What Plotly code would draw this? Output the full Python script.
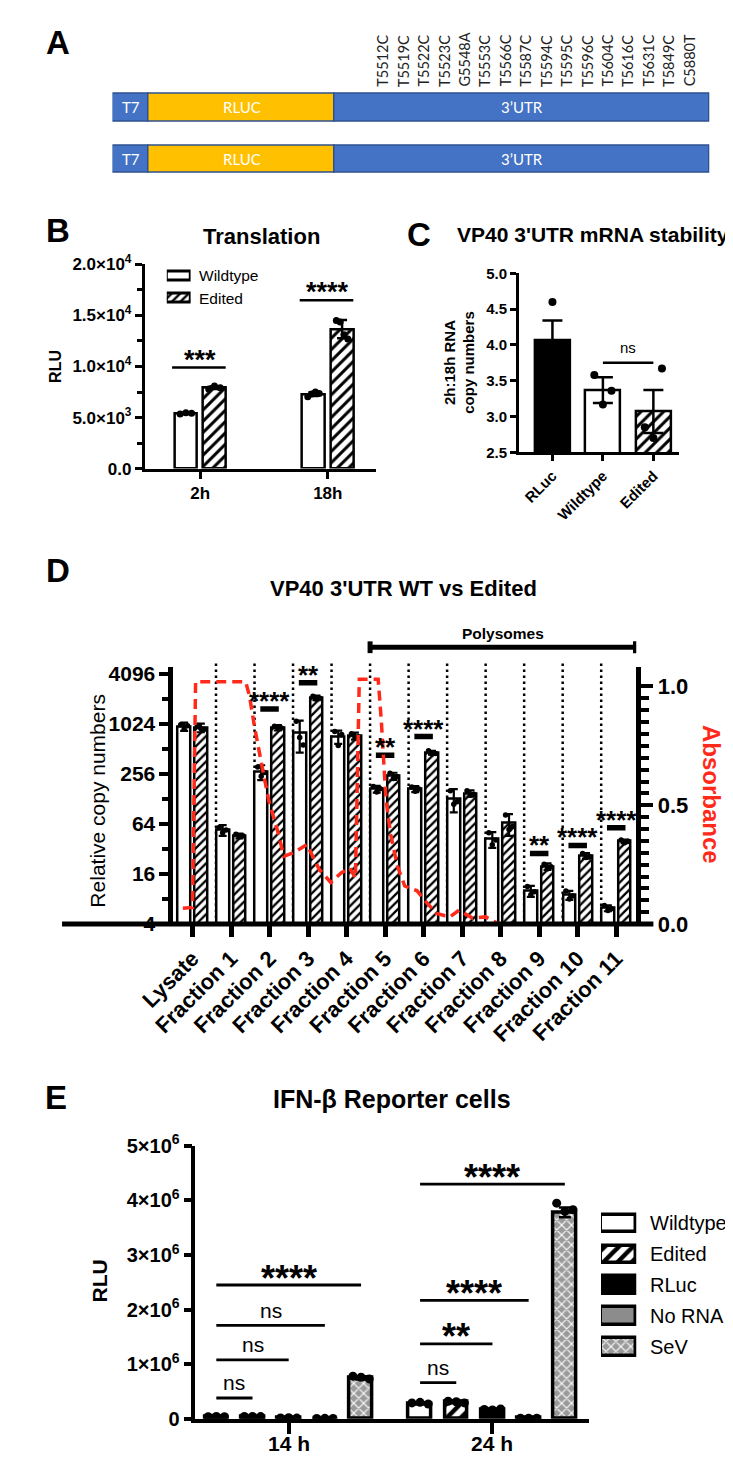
import numpy as np
import plotly.graph_objects as go

W, H = 733, 1462
FONT = "Liberation Sans, Arial, Helvetica, sans-serif"
FONT_A = "Lato, Carlito, Liberation Sans, sans-serif"
FONT_LETTER = "Liberation Sans Narrow, Liberation Sans, Arial, sans-serif"

# ======================= DATA =======================
# Panel A: constructs
construct_rows = ["Edited", "Wildtype"]
segment_names = ["T7", "RLUC", "3’UTR"]
segment_lengths = [38, 195, 394]
segment_colors = ["#4472C4", "#FFC000", "#4472C4"]
mutation_labels = ["T5512C", "T5519C", "T5522C", "T5523C", "G5548A", "T5553C",
                   "T5566C", "T5587C", "T5594C", "T5595C", "T5596C", "T5604C",
                   "T5616C", "T5631C", "T5849C", "C5880T"]

# Panel B: Translation (RLU)
b_groups = ["2h", "18h"]
b_wildtype_reps = [[5350, 5480, 5420], [7050, 7300, 7500, 7350]]
b_edited_reps = [[7800, 8080, 7920], [14500, 14350, 13100, 12700]]
b_sig_labels = ["***", "****"]
b_sig_heights = [9900, 16500]
b_yticks = [0, 5000, 10000, 15000, 20000]
b_yticklabels = ["0.0", "5.0×10<sup>3</sup>", "1.0×10<sup>4</sup>",
                 "1.5×10<sup>4</sup>", "2.0×10<sup>4</sup>"]

# Panel C: mRNA stability
c_groups = ["RLuc", "Wildtype", "Edited"]
c_means = [4.07, 3.37, 3.07]
c_sem = [0.27, 0.18, 0.30]
c_reps = [[4.60, 3.85, 3.75], [3.58, 3.17, 3.36], [3.67, 2.85, 2.70]]
c_sig = ("ns", 1, 2, 3.75)

# Panel D: polysome fractions
d_groups = ["Lysate", "Fraction 1", "Fraction 2", "Fraction 3", "Fraction 4",
            "Fraction 5", "Fraction 6", "Fraction 7", "Fraction 8", "Fraction 9",
            "Fraction 10", "Fraction 11"]
d_wt_mean = [950, 54, 270, 790, 717, 168, 168, 128, 42, 10.0, 8.9, 6.2]
d_wt_err = [110, 8, 55, 330, 130, 16, 14, 40, 9, 1.5, 1.1, 0.5]
d_ed_mean = [920, 46, 920, 2100, 730, 240, 460, 149, 65, 19.7, 26.5, 39.5]
d_ed_err = [110, 3, 70, 130, 70, 24, 25, 13, 19, 1.8, 2.0, 2.0]
d_wt_reps = [[1000, 880, 970], [58, 50, 54], [310, 240, 265], [1100, 700, 570],
             [830, 560, 760], [180, 155, 170], [178, 158, 168], [160, 110, 118],
             [50, 36, 41], [11.3, 9.0, 9.8], [10.0, 8.0, 8.7], [6.7, 5.8, 6.1]]
d_ed_reps = [[980, 900, 880], [48, 45, 46], [960, 890, 910], [2200, 2020, 2080],
             [780, 700, 710], [260, 225, 238], [485, 445, 450], [160, 142, 146],
             [82, 55, 60], [21, 18.5, 19.6], [28.3, 25.3, 26], [41, 38, 39.5]]
d_sig = [(2, 1540, "****"), (3, 3200, "**"), (5, 430, "**"), (6, 720, "****"),
         (9, 28.3, "**"), (10, 35.3, "****"), (11, 57.4, "****")]
d_yticks = [4, 16, 64, 256, 1024, 4096]
absorb_x = [-0.25, 0.0, 0.08, 1.38, 1.48, 1.61, 1.81, 1.98, 2.23, 2.37, 2.62, 2.97,
            3.12, 3.29, 3.59, 3.86, 4.08, 4.23, 4.33, 4.82, 4.90, 4.97, 5.02, 5.14,
            5.32, 5.51, 5.83, 6.08, 6.33, 6.68, 6.92, 7.27, 7.61, 7.96]
absorb_y = [0.066, 0.07, 1.02, 1.02, 0.96, 0.83, 0.66, 0.52, 0.38, 0.285, 0.30, 0.335,
            0.285, 0.23, 0.175, 0.215, 0.236, 0.194, 1.03, 1.03, 0.86, 0.66, 0.53, 0.38,
            0.244, 0.16, 0.14, 0.09, 0.045, 0.03, 0.058, 0.025, 0.03, 0.0]

# Panel E: IFN-beta reporter
e_groups = ["14 h", "24 h"]
e_conditions = ["Wildtype", "Edited", "RLuc", "No RNA", "SeV"]
e_means_14h = [35000, 38000, 12000, 5000, 750000]
e_means_24h = [280000, 305000, 165000, 8000, 3780000]
e_err_14h = [5000, 5000, 5000, 2000, 30000]
e_err_24h = [20000, 20000, 15000, 3000, 90000]
e_reps_14h = [[38000, 40000, 36000], [40000, 41000, 39000], [15000, 18000, 12000],
              [6000, 7000, 6000], [780000, 760000, 730000]]
e_reps_24h = [[290000, 300000, 270000], [320000, 310000, 290000],
              [170000, 160000, 180000], [10000, 9000, 10000],
              [3950000, 3800000, 3830000]]
e_sig = [(0, 0, 1, 380000, "ns"), (0, 0, 2, 1080000, "ns"), (0, 0, 3, 1710000, "ns"),
         (0, 0, 4, 2450000, "****"), (1, 0, 1, 660000, "ns"), (1, 0, 2, 1370000, "**"),
         (1, 0, 3, 2170000, "****"), (1, 0, 4, 4300000, "****")]
e_yticks = [0, 1e6, 2e6, 3e6, 4e6, 5e6]
e_yticklabels = ["0", "1×10<sup>6</sup>", "2×10<sup>6</sup>", "3×10<sup>6</sup>",
                 "4×10<sup>6</sup>", "5×10<sup>6</sup>"]

# ======================= HELPERS =======================
def dom_x(l, r):
    return [l / W, r / W]

def dom_y(t, b):
    return [1 - b / H, 1 - t / H]

def px(v):
    return v / W

def py(v):
    return 1 - v / H

annotations = []
shapes = []

def ann(text, x, y, size, bold=False, color="black", xanchor="center",
        yanchor="middle", angle=0, family=FONT, xref="paper", yref="paper", yshift=0):
    annotations.append(dict(text=text, x=x, y=y, xref=xref, yref=yref, showarrow=False,
                            font=dict(family=family, size=size, color=color,
                                      weight="bold" if bold else "normal"),
                            xanchor=xanchor, yanchor=yanchor, textangle=angle,
                            yshift=yshift, borderpad=0))

def axstyle(**kw):
    d = dict(showgrid=False, zeroline=False, showline=True, linecolor="black",
             ticks="outside", tickcolor="black", fixedrange=True)
    d.update(kw)
    return d

def hatch(size, solidity=0.38, shape="/", fg="black", bg="white"):
    return dict(shape=shape, size=size, solidity=solidity, fgcolor=fg, bgcolor=bg,
                fillmode="replace")

data = []

# ======================= PANEL A =======================
bases = np.concatenate([[0], np.cumsum(segment_lengths)[:-1]])
rows = np.arange(len(construct_rows))
for name, length, base, color in zip(segment_names, segment_lengths, bases, segment_colors):
    data.append(go.Bar(orientation="h", y=rows, x=[length] * len(rows),
                       base=[base] * len(rows), width=0.533,
                       marker=dict(color=color, line=dict(color="#2F528F", width=1.5)),
                       xaxis="x", yaxis="y", hoverinfo="skip"))
    for r in rows:
        ann(name, base + length / 2, r, 15, color="white", family=FONT_A,
            xref="x", yref="y")
label_x = np.linspace(284, 606, len(mutation_labels))
for lx, lab in zip(label_x, mutation_labels):
    ann(lab, lx, py(67), 14.5, color="#222222", family=FONT_A, xref="x",
        yanchor="bottom", angle=-90)

# ======================= PANEL B =======================
b_x = np.arange(len(b_groups))
off_b, w_b = 0.112, 0.179
b_wt_m = [np.mean(r) for r in b_wildtype_reps]
b_wt_sd = [np.std(r, ddof=1) for r in b_wildtype_reps]
b_ed_m = [np.mean(r) for r in b_edited_reps]
b_ed_sd = [np.std(r, ddof=1) for r in b_edited_reps]
err_b = lambda a: dict(type="data", array=a, color="black", thickness=2.5, width=5)
data.append(go.Bar(x=b_x - off_b, y=b_wt_m, width=w_b, error_y=err_b(b_wt_sd),
                   marker=dict(color="white", line=dict(color="black", width=2.5)),
                   xaxis="x2", yaxis="y2"))
data.append(go.Bar(x=b_x + off_b, y=b_ed_m, width=w_b, error_y=err_b(b_ed_sd),
                   marker=dict(color="white", line=dict(color="black", width=2.5),
                               pattern=hatch(8)),
                   xaxis="x2", yaxis="y2"))
for g in b_x:
    for reps, sgn in ((b_wildtype_reps[g], -1), (b_edited_reps[g], 1)):
        xs = g + sgn * off_b + np.linspace(-0.045, 0.045, len(reps))
        data.append(go.Scatter(x=xs, y=reps, mode="markers",
                               marker=dict(color="black", size=7),
                               xaxis="x2", yaxis="y2"))
for g, (lab, hgt) in enumerate(zip(b_sig_labels, b_sig_heights)):
    data.append(go.Scatter(x=[g - 0.22, g + 0.2], y=[hgt, hgt], mode="lines",
                           line=dict(color="black", width=2.5), xaxis="x2", yaxis="y2"))
    ann(lab, g, hgt, 27, bold=True, xref="x2", yref="y2", yshift=8)

# legend B
data.append(go.Bar(orientation="h", y=[0], x=[1], base=[0], width=0.4,
                   marker=dict(color="white", line=dict(color="black", width=3)),
                   xaxis="x3", yaxis="y3"))
data.append(go.Bar(orientation="h", y=[1], x=[1], base=[0], width=0.4,
                   marker=dict(color="white", line=dict(color="black", width=3),
                               pattern=hatch(6, 0.4)),
                   xaxis="x3", yaxis="y3"))
ann("Wildtype", px(163), py(258.5), 15.5, xanchor="left")
ann("Edited", px(163), py(281.5), 15.5, xanchor="left")

# ======================= PANEL C =======================
c_x = np.arange(len(c_groups))
w_c = 0.7
c_fill = [dict(color="black", line=dict(color="black", width=2.5)),
          dict(color="white", line=dict(color="black", width=2.5)),
          dict(color="white", line=dict(color="black", width=2.5), pattern=hatch(8))]
c_dot_offsets = [[0.0, -0.17, 0.17], [-0.17, 0.0, 0.17], [0.17, -0.17, 0.0]]
for i in c_x:
    data.append(go.Bar(x=[i], y=[c_means[i]], width=w_c, marker=c_fill[i],
                       error_y=dict(type="data", array=[c_sem[i]], color="black",
                                    thickness=2.5, width=10),
                       xaxis="x4", yaxis="y4"))
    xs = i + np.array(c_dot_offsets[i])
    data.append(go.Scatter(x=xs, y=c_reps[i], mode="markers",
                           marker=dict(color="black", size=8), xaxis="x4", yaxis="y4"))
lab, ia, ib, hgt = c_sig
data.append(go.Scatter(x=[ia, ib], y=[hgt, hgt], mode="lines",
                       line=dict(color="black", width=2.5), xaxis="x4", yaxis="y4"))
ann(lab, (ia + ib) / 2, hgt, 15, xref="x4", yref="y4", yshift=15)

# ======================= PANEL D =======================
d_x = np.arange(len(d_groups))
off_d, w_d = 0.217, 0.33
err_d = lambda a: dict(type="data", array=a, color="black", thickness=2.2, width=4)
data.append(go.Bar(x=d_x - off_d, y=d_wt_mean, width=w_d, error_y=err_d(d_wt_err),
                   marker=dict(color="white", line=dict(color="black", width=2.5)),
                   xaxis="x5", yaxis="y5"))
data.append(go.Bar(x=d_x + off_d, y=d_ed_mean, width=w_d, error_y=err_d(d_ed_err),
                   marker=dict(color="white", line=dict(color="black", width=2.5),
                               pattern=hatch(6, 0.38)),
                   xaxis="x5", yaxis="y5"))
for g in d_x:
    for reps, sgn in ((d_wt_reps[g], -1), (d_ed_reps[g], 1)):
        xs = g + sgn * off_d + np.linspace(-0.09, 0.09, len(reps))
        data.append(go.Scatter(x=xs, y=reps, mode="markers",
                               marker=dict(color="black", size=5.5),
                               xaxis="x5", yaxis="y5"))
for g, hgt, lab in d_sig:
    data.append(go.Scatter(x=[g - 0.24, g + 0.24], y=[hgt, hgt], mode="lines",
                           line=dict(color="black", width=5.5), xaxis="x5", yaxis="y5"))
    ann(lab, g, np.log10(hgt), 26, bold=True, xref="x5", yref="y5", yshift=8)
data.append(go.Scatter(x=absorb_x, y=absorb_y, mode="lines",
                       line=dict(color="#FF2A1A", width=3.5, dash="10px,6px"),
                       xaxis="x5", yaxis="y6"))
for g in d_x[1:]:
    shapes.append(dict(type="line", xref="x5", yref="paper", x0=g - 0.39, x1=g - 0.39,
                       y0=py(919), y1=py(652),
                       line=dict(color="black", width=2.5, dash="2.5px,3.5px"),
                       layer="below"))
# polysome bracket
poly_l, poly_r = 5 - 0.39, 11.5
shapes.append(dict(type="line", xref="x5", yref="paper", x0=poly_l, x1=poly_r,
                   y0=py(637), y1=py(637), line=dict(color="black", width=5)))
for xx in (poly_l, poly_r):
    shapes.append(dict(type="line", xref="x5", yref="paper", x0=xx, x1=xx,
                       y0=py(631), y1=py(643), line=dict(color="black", width=5)))
ann("Polysomes", px(483), py(623), 15.5, bold=True)
# baseline
shapes.append(dict(type="line", xref="paper", yref="paper", x0=px(20), x1=px(641),
                   y0=py(919), y1=py(919), line=dict(color="black", width=5),
                   layer="above"))

# ======================= PANEL E =======================
e_off, e_w = 0.1776, 0.112
e_styles = [dict(color="white", line=dict(color="black", width=3.5)),
            dict(color="white", line=dict(color="black", width=3.5), pattern=hatch(10, 0.45)),
            dict(color="black", line=dict(color="black", width=3.5)),
            dict(color="#8c8c8c", line=dict(color="black", width=3.5)),
            dict(color="#9a9a9a", line=dict(color="black", width=3.5),
                 pattern=hatch(7, 0.3, shape="x", fg="white", bg="#9a9a9a"))]
e_x = np.arange(len(e_groups))
for k in range(len(e_conditions)):
    xs = e_x + (k - 2) * e_off
    data.append(go.Bar(x=xs, y=[e_means_14h[k], e_means_24h[k]], width=e_w,
                       marker=e_styles[k],
                       error_y=dict(type="data", array=[e_err_14h[k], e_err_24h[k]],
                                    color="black", thickness=2.5, width=6),
                       xaxis="x7", yaxis="y7"))
    for g, reps in ((0, e_reps_14h[k]), (1, e_reps_24h[k])):
        dx = g + (k - 2) * e_off + np.linspace(-0.04, 0.04, len(reps))
        data.append(go.Scatter(x=dx, y=reps, mode="markers",
                               marker=dict(color="black", size=9),
                               xaxis="x7", yaxis="y7"))
for g, ka, kb, hgt, lab in e_sig:
    xa = g + (ka - 2) * e_off
    xb = g + (kb - 2) * e_off
    data.append(go.Scatter(x=[xa, xb], y=[hgt, hgt], mode="lines",
                           line=dict(color="black", width=2.8), xaxis="x7", yaxis="y7"))
    if lab == "ns":
        ann(lab, (xa + xb) / 2, hgt, 21, xref="x7", yref="y7", yshift=15)
    else:
        ann(lab, (xa + xb) / 2, hgt, 36, bold=True, xref="x7", yref="y7", yshift=7)
# x labels of E (drawn as text so they stay inside the page)
for g, lab in zip(e_x, e_groups):
    ann(lab, g, py(1448), 21, bold=True, xref="x7")
# legend E
for k, name in enumerate(e_conditions):
    data.append(go.Bar(orientation="h", y=[k], x=[1], base=[0], width=0.57,
                       marker=e_styles[k], xaxis="x8", yaxis="y8"))
    ann(name, px(636), py(1224 + 31.5 * k), 20, xanchor="left")

# ======================= TEXT =======================
for letter, lx, ly in (("A", 2, 21), ("B", 2, 212), ("C", 381, 216), ("D", 2, 559), ("E", 1, 1096)):
    ann(letter, px(lx), py(ly), 33, bold=True, xanchor="left", family=FONT_LETTER)
ann("Translation", px(229), py(219), 22, bold=True)
ann("RLU", px(13), py(351), 16, bold=True, angle=-90)
ann("VP40 3'UTR mRNA stability", px(578), py(217), 21, bold=True)
ann("2h:18h RNA<br>copy numbers", px(437), py(347), 15, bold=True, angle=-90)
ann("VP40 3'UTR WT vs Edited", px(379), py(577), 22, bold=True)
ann("Relative copy numbers", px(57), py(793), 21, angle=-90)
ann("Absorbance", px(702), py(787), 24, bold=True, color="#FF2A1A", angle=90)
ann("IFN-β Reporter cells", px(367), py(1097), 25, bold=True)
ann("RLU", px(59), py(1283), 21, bold=True, angle=-90)

# ======================= LAYOUT =======================
log4 = np.log10(4)
d_log_top = log4 + (919 - 657) / 51 * log4
abs_top = (919 - 657) / 242
abs_minor = [v for v in np.round(np.arange(0.05, 1.05, 0.05), 2) if v not in (0.5, 1.0)]

fig = go.Figure(data=data)
fig.update_traces(showlegend=False, hoverinfo="skip")
fig.update_layout(
    width=W, height=H, margin=dict(l=0, r=0, t=0, b=0),
    paper_bgcolor="white", plot_bgcolor="rgba(0,0,0,0)",
    showlegend=False, barmode="overlay", bargap=0,
    font=dict(family=FONT, color="black"),
    annotations=annotations, shapes=shapes,
    # A
    xaxis=dict(domain=dom_x(73, 700), range=[0, sum(segment_lengths)], visible=False,
               anchor="y", fixedrange=True),
    yaxis=dict(domain=dom_y(60.75, 165.75), range=[1.5, -0.5], visible=False,
               anchor="x", fixedrange=True),
    # B
    xaxis2=axstyle(domain=dom_x(107, 350), range=[-0.433, 1.38], anchor="y2",
                   tickvals=b_x, ticktext=b_groups, linewidth=3, ticklen=7, tickwidth=3,
                   tickfont=dict(size=17, weight="bold")),
    yaxis2=axstyle(domain=dom_y(247, 455), range=[0, 20000], anchor="x2",
                   tickvals=b_yticks, ticktext=b_yticklabels, linewidth=3, ticklen=7,
                   tickwidth=3, tickfont=dict(size=17, weight="bold"),
                   minor=dict(tickvals=[2500, 7500, 12500, 17500], ticks="outside",
                              ticklen=5, tickwidth=3, tickcolor="black")),
    xaxis3=dict(domain=dom_x(130, 155), range=[0, 1], visible=False, anchor="y3",
                fixedrange=True),
    yaxis3=dict(domain=dom_y(247, 293), range=[1.5, -0.5], visible=False, anchor="x3",
                fixedrange=True),
    # C
    xaxis4=axstyle(domain=dom_x(500, 668), range=[-0.66, 2.51], anchor="y4",
                   tickvals=c_x, ticktext=c_groups, tickangle=-45, linewidth=3,
                   ticklen=6, tickwidth=3, tickfont=dict(size=15, weight="bold")),
    yaxis4=axstyle(domain=dom_y(256, 438.5), range=[2.5, 5.0], anchor="x4",
                   tickvals=[2.5, 3.0, 3.5, 4.0, 4.5, 5.0], tickformat=".1f",
                   linewidth=3, ticklen=6, tickwidth=3,
                   tickfont=dict(size=15, weight="bold")),
    # D
    xaxis5=axstyle(domain=dom_x(137, 623), range=[-0.4944, 11.52], anchor="y5",
                   showline=False, tickvals=d_x, ticktext=d_groups, tickangle=-45,
                   ticklen=12, tickwidth=5, tickfont=dict(size=22, weight="bold")),
    yaxis5=axstyle(domain=dom_y(657, 919), type="log", range=[log4, d_log_top],
                   anchor="x5", tickvals=d_yticks, ticktext=[str(t) for t in d_yticks],
                   linewidth=5, ticklen=9, tickwidth=4,
                   tickfont=dict(size=21, weight="bold"),
                   minor=dict(tickvals=[8, 32, 128, 512, 2048], ticks="outside",
                              ticklen=6, tickwidth=4, tickcolor="black")),
    yaxis6=axstyle(overlaying="y5", anchor="x5", side="right", range=[0, abs_top],
                   tickvals=[0, 0.5, 1.0], ticktext=["0.0", "0.5", "1.0"],
                   linewidth=5, ticklen=12, tickwidth=4,
                   tickfont=dict(size=22, weight="bold"),
                   minor=dict(tickvals=abs_minor, ticks="outside", ticklen=8,
                              tickwidth=4, tickcolor="black")),
    # E
    xaxis7=axstyle(domain=dom_x(160, 573), range=[-0.458, 1.472], anchor="y7",
                   tickvals=e_x, showticklabels=False, linewidth=3.5, ticklen=12,
                   tickwidth=3.5),
    yaxis7=axstyle(domain=dom_y(1145, 1423), range=[0, 5e6], anchor="x7",
                   tickvals=e_yticks, ticktext=e_yticklabels, linewidth=3.5,
                   ticklen=8, tickwidth=3.5, tickfont=dict(size=20, weight="bold")),
    xaxis8=dict(domain=dom_x(586, 623), range=[0, 1], visible=False, anchor="y8",
                fixedrange=True),
    yaxis8=dict(domain=dom_y(1208.25, 1365.75), range=[4.5, -0.5], visible=False,
                anchor="x8", fixedrange=True),
)

fig.write_html("out.html")
